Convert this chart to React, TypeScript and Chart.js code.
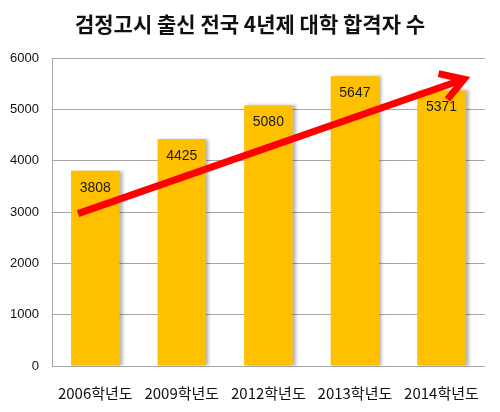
import { useEffect, useRef } from 'react';
import { Chart, registerables, type Plugin } from 'chart.js';

Chart.register(...registerables);

const TITLE = '검정고시 출신 전국 4년제 대학 합격자 수';
const categories = ['2006학년도', '2009학년도', '2012학년도', '2013학년도', '2014학년도'];
const passers = [3808, 4425, 5080, 5647, 5371];
const yTicks = [0, 1000, 2000, 3000, 4000, 5000, 6000];
// trend arrow, in (category index, value)
const arrowFrom = { x: -0.2, y: 2970 };
const arrowTo = { x: 4.26, y: 5590 };

const BAR = '#FFC000';
const GRID = '#a6a6a6';
const NUM_FONT = 'Arial, "Liberation Sans", sans-serif';

const shadowPlugin: Plugin<'bar'> = {
  id: 'barShadow',
  beforeDatasetsDraw(chart) {
    const { ctx } = chart;
    ctx.save();
    ctx.shadowColor = 'rgba(0,0,0,0.28)';
    ctx.shadowOffsetX = 3;
    ctx.shadowOffsetY = 0;
    ctx.shadowBlur = 3;
  },
  afterDatasetsDraw(chart) {
    chart.ctx.restore();
  },
};

const overlayPlugin: Plugin<'bar'> = {
  id: 'overlay',
  afterDraw(chart) {
    const { ctx, scales } = chart;
    const meta = chart.getDatasetMeta(0);
    ctx.save();
    // value labels
    ctx.font = `14px ${NUM_FONT}`;
    ctx.fillStyle = '#1a1a1a';
    ctx.textAlign = 'center';
    ctx.textBaseline = 'middle';
    meta.data.forEach((el, i) => {
      const { x, y } = el.getProps(['x', 'y'], true) as { x: number; y: number };
      ctx.fillText(String(passers[i]), x, y + 17);
    });
    // arrow
    const x1 = scales.x.getPixelForValue(arrowFrom.x);
    const y1 = scales.y.getPixelForValue(arrowFrom.y);
    const x2 = scales.x.getPixelForValue(arrowTo.x);
    const y2 = scales.y.getPixelForValue(arrowTo.y);
    const ang = Math.atan2(y2 - y1, x2 - x1);
    ctx.strokeStyle = '#ff0000';
    ctx.lineWidth = 7;
    ctx.lineCap = 'butt';
    ctx.lineJoin = 'miter';
    ctx.beginPath();
    ctx.moveTo(x1, y1);
    ctx.lineTo(x2 - 4 * Math.cos(ang), y2 - 4 * Math.sin(ang));
    ctx.stroke();
    const head = 26;
    const spread = 0.55;
    ctx.beginPath();
    ctx.moveTo(x2 - head * Math.cos(ang - spread), y2 - head * Math.sin(ang - spread));
    ctx.lineTo(x2, y2);
    ctx.lineTo(x2 - head * Math.cos(ang + spread), y2 - head * Math.sin(ang + spread));
    ctx.stroke();
    ctx.restore();
  },
};

export default function App() {
  const canvasRef = useRef<HTMLCanvasElement>(null);

  useEffect(() => {
    if (!canvasRef.current) return;
    const chart = new Chart(canvasRef.current, {
      type: 'bar',
      data: {
        labels: categories,
        datasets: [
          {
            data: passers,
            backgroundColor: BAR,
            borderWidth: 0,
            categoryPercentage: 1,
            barPercentage: 0.56,
          },
        ],
      },
      options: {
        responsive: false,
        animation: false,
        layout: { padding: { top: 6, right: 0, left: 0, bottom: 0 } },
        scales: {
          x: {
            grid: { display: false, drawTicks: false },
            border: { display: true, color: GRID, width: 1 },
            afterFit: (axis) => {
              axis.height = 46;
            },
            ticks: {
              color: '#111',
              font: { family: "'Noto Sans CJK KR', sans-serif", size: 15, lineHeight: 1 },
              padding: 20,
              maxRotation: 0,
              autoSkip: false,
            },
          },
          y: {
            min: 0,
            max: 6000,
            afterBuildTicks: (axis) => {
              axis.ticks = yTicks.map((v) => ({ value: v }));
            },
            afterFit: (axis) => {
              axis.width = 52;
            },
            grid: { color: GRID, drawTicks: false, lineWidth: 1 },
            border: { display: true, color: GRID, width: 1 },
            ticks: {
              color: '#111',
              font: { family: NUM_FONT, size: 13 },
              padding: 13,
              callback: (v) => String(v),
            },
          },
          // empty right-hand spacer so the title centres on the whole image
          spacer: {
            type: 'linear',
            position: 'right',
            display: true,
            grid: { display: false, drawTicks: false },
            border: { display: false },
            ticks: { display: false },
            afterFit: (axis) => {
              axis.width = 12;
            },
          },
        },
        plugins: {
          legend: { display: false },
          tooltip: { enabled: false },
          title: {
            display: true,
            text: TITLE,
            color: '#111',
            font: { family: "'Noto Sans CJK KR', sans-serif", size: 21, weight: 'bold' },
            padding: { top: 5, bottom: 22 },
          },
        },
      },
      plugins: [shadowPlugin, overlayPlugin],
    });
    return () => chart.destroy();
  }, []);

  return (
    <div style={{ margin: -8, width: 500, height: 412, background: '#fff' }}>
      <canvas ref={canvasRef} width={500} height={412} style={{ width: 500, height: 412 }} />
    </div>
  );
}
